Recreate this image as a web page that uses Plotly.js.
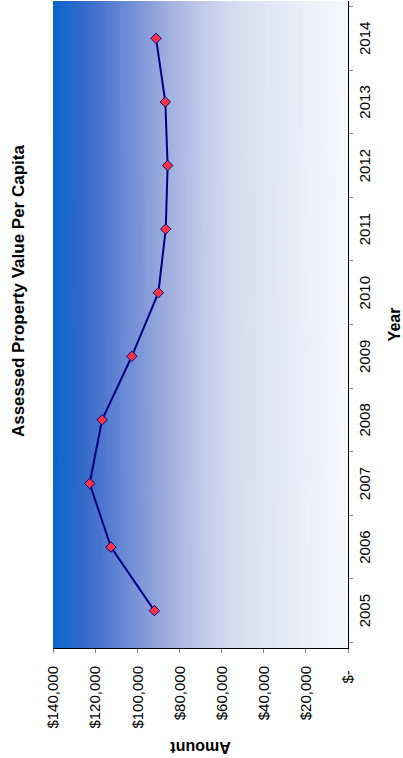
<!DOCTYPE html>
<html>
<head>
<meta charset="utf-8">
<script src="https://cdn.plot.ly/plotly-3.0.1.min.js"></script>
<style>
  html, body { margin: 0; padding: 0; background: #ffffff; overflow: hidden; }
  #wrap { width: 403px; height: 758px; position: relative; overflow: hidden; }
  #chart { width: 758px; height: 403px; position: absolute; left: 0; top: 0;
           transform-origin: 0 0; transform: translateY(758px) rotate(-90deg); }
</style>
</head>
<body>
<div id="wrap"><div id="chart"></div></div>
<script>
// ---- data ----
var years = ["2005", "2006", "2007", "2008", "2009", "2010", "2011", "2012", "2013", "2014"];
var amounts = [91900, 112500, 122600, 116700, 102600, 90000, 86500, 85600, 86700, 91100];
var amountTicks = [0, 20000, 40000, 60000, 80000, 100000, 120000, 140000];
var amountTickText = ["$-\u00a0", "$20,000", "$40,000", "$60,000", "$80,000", "$100,000", "$120,000", "$140,000"];
var chartTitle = "Assessed Property Value Per Capita";
var xTitle = "Year";
var yTitle = "Amount";

// ---- gradient background for the plot area ----
function gradientURI() {
  var c = document.createElement('canvas');
  c.width = 4; c.height = 512;
  var g = c.getContext('2d');
  var lg = g.createLinearGradient(0, 0, 0, 512);
  lg.addColorStop(0.00, '#0a64cd');
  lg.addColorStop(0.125, '#3d6dcb');
  lg.addColorStop(0.295, '#7d96d8');
  lg.addColorStop(0.41, '#a7b4e0');
  lg.addColorStop(0.52, '#c5cdeb');
  lg.addColorStop(0.63, '#d9ddf1');
  lg.addColorStop(1.00, '#f7f8fd');
  g.fillStyle = lg;
  g.fillRect(0, 0, 4, 512);
  return c.toDataURL('image/png');
}

var FONT = 'Liberation Sans, Arial, sans-serif';

var trace = {
  type: 'scatter',
  mode: 'lines+markers',
  x: years,
  y: amounts,
  line: { color: '#000080', width: 2 },
  marker: { symbol: 'diamond', size: 8, color: '#ff3344', line: { color: '#000080', width: 1 } },
  hoverinfo: 'x+y',
  showlegend: false
};

var layout = {
  width: 758,
  height: 403,
  margin: { l: 110, r: 1, t: 53, b: 55, pad: 0 },
  paper_bgcolor: '#ffffff',
  plot_bgcolor: 'rgba(0,0,0,0)',
  font: { family: FONT, color: '#000000', size: 15 },
  title: {
    text: '<b>' + chartTitle + '</b>',
    font: { family: FONT, size: 17, color: '#000000' },
    xref: 'container', x: 0.616, xanchor: 'center',
    yref: 'container', y: 0.954, yanchor: 'middle'
  },
  xaxis: {
    type: 'category',
    showgrid: false, zeroline: false,
    showline: true, linecolor: '#000000', linewidth: 1,
    ticks: 'outside', tickson: 'boundaries', ticklen: 4, tickcolor: '#888888',
    ticklabelstandoff: 3,
    tickfont: { family: FONT, size: 15, color: '#000000' },
    title: { text: '<b>' + xTitle + '</b>', font: { family: FONT, size: 16, color: '#000000' }, standoff: 16 },
    fixedrange: true
  },
  yaxis: {
    range: [0, 140000],
    tickvals: amountTicks,
    ticktext: amountTickText,
    showgrid: false, zeroline: false,
    showline: true, linecolor: '#000000', linewidth: 1,
    ticks: 'outside', ticklen: 4, tickcolor: '#888888',
    ticklabelstandoff: 10,
    tickfont: { family: FONT, size: 15, color: '#000000' },
    title: { text: '<b>' + yTitle + '</b>', font: { family: FONT, size: 16, color: '#000000' }, standoff: 8 },
    fixedrange: true
  },
  images: [{
    source: gradientURI(),
    xref: 'paper', yref: 'paper',
    x: 0, y: 1, sizex: 1, sizey: 1,
    xanchor: 'left', yanchor: 'top',
    sizing: 'stretch', layer: 'below'
  }]
};

Plotly.newPlot('chart', [trace], layout, { displayModeBar: false, staticPlot: true });
</script>
</body>
</html>
